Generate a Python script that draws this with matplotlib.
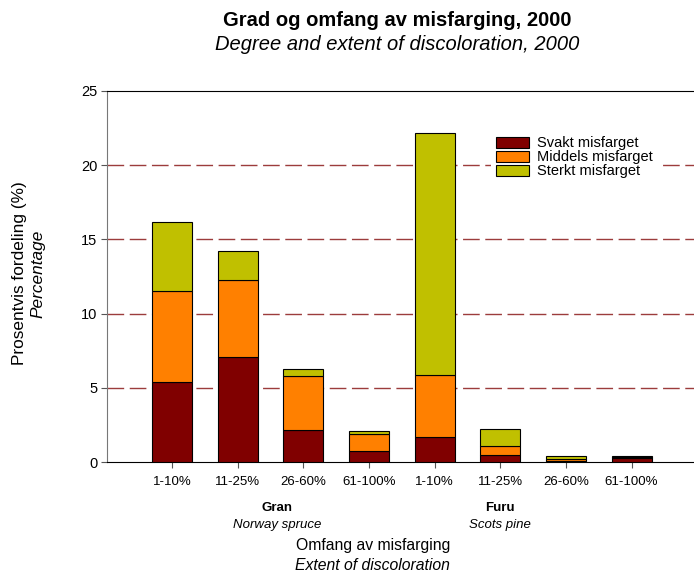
import matplotlib
matplotlib.use("Agg")
import matplotlib.pyplot as plt
import numpy as np

plt.rcParams['font.family'] = ['Liberation Sans', 'DejaVu Sans']

kategorier = ['1-10%', '11-25%', '26-60%', '61-100%', '1-10%', '11-25%', '26-60%', '61-100%']
svakt = [5.4, 7.1, 2.15, 0.75, 1.7, 0.5, 0.05, 0.3]
middels = [6.1, 5.15, 3.65, 1.15, 4.15, 0.6, 0.15, 0.02]
sterkt = [4.7, 1.95, 0.5, 0.2, 16.3, 1.1, 0.2, 0.08]
serier = ['Svakt misfarget', 'Middels misfarget', 'Sterkt misfarget']
farger = ['#800000', '#FF8000', '#C0C000']

x = np.arange(len(kategorier))

fig = plt.figure(figsize=(6.94, 5.76), dpi=100)
ax = fig.add_axes([107 / 694, 1 - 462 / 576, 1 - 107 / 694, (462 - 91) / 576])

bunn = np.zeros(len(x))
for verdier, navn, farge in zip([svakt, middels, sterkt], serier, farger):
    ax.bar(x, verdier, 0.61, bottom=bunn, color=farge, edgecolor='black',
           linewidth=0.8, label=navn, zorder=3)
    bunn += np.array(verdier)

for y in [5, 10, 15, 20]:
    ax.axhline(y, color='#8B1A1A', linewidth=1.0, dashes=(12, 4), alpha=0.85, zorder=1)

ax.set_xlim(-0.99, 7.95)
ax.set_ylim(0, 25)
ax.set_yticks([0, 5, 10, 15, 20, 25])
ax.set_xticks(x)
ax.set_xticklabels(kategorier)
ax.tick_params(axis='both', direction='out', length=4, color='#555555')
ax.tick_params(axis='y', labelsize=10.5, pad=3)
ax.tick_params(axis='x', labelsize=9.5, pad=6)
ax.spines['right'].set_visible(False)
ax.spines['left'].set_color('#777777')

fig.text(0.572, 0.965, 'Grad og omfang av misfarging, 2000', ha='center', va='center',
         fontsize=14.5, fontweight='bold')
fig.text(0.572, 0.922, 'Degree and extent of discoloration, 2000', ha='center', va='center',
         fontsize=14.5, style='italic')

fig.text(20 / 694, 0.525, 'Prosentvis fordeling (%)', rotation=90, ha='center', va='center', fontsize=12.4)
fig.text(38 / 694, 0.525, 'Percentage', rotation=90, ha='center', va='center', fontsize=12.4, style='italic')

trans = ax.get_xaxis_transform()
ax.text(1.6, -0.125, 'Gran', transform=trans, ha='center', va='center', fontsize=9.5, fontweight='bold')
ax.text(1.6, -0.17, 'Norway spruce', transform=trans, ha='center', va='center', fontsize=9.5, style='italic')
ax.text(5.0, -0.125, 'Furu', transform=trans, ha='center', va='center', fontsize=9.5, fontweight='bold')
ax.text(5.0, -0.17, 'Scots pine', transform=trans, ha='center', va='center', fontsize=9.5, style='italic')
ax.text(3.06, -0.226, 'Omfang av misfarging', transform=trans, ha='center', va='center', fontsize=11.3)
ax.text(3.06, -0.28, 'Extent of discoloration', transform=trans, ha='center', va='center', fontsize=11.3, style='italic')

leg = ax.legend(loc='upper left', bbox_to_anchor=(0.641, 0.913), frameon=True, fontsize=10.5,
                handlelength=2.25, handleheight=0.75, labelspacing=0.0, handletextpad=0.55,
                fancybox=False, framealpha=1.0)
leg.get_frame().set_edgecolor('none')
leg.get_frame().set_facecolor('white')
leg.set_zorder(5)

fig.savefig('out.png', dpi=100)
